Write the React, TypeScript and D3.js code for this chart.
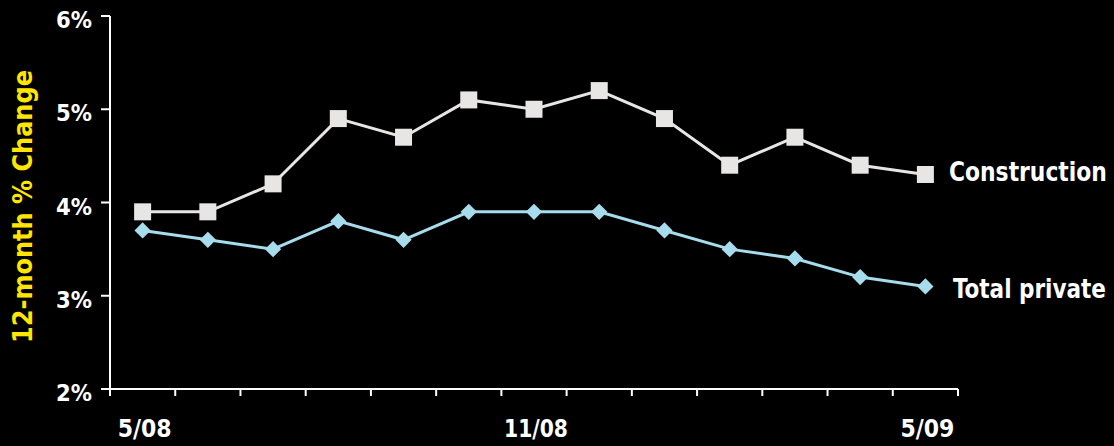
import * as d3 from "d3";
import { useLayoutEffect, useRef, useState } from "react";

const months = ["5/08", "6/08", "7/08", "8/08", "9/08", "10/08", "11/08", "12/08", "1/09", "2/09", "3/09", "4/09", "5/09"];
const construction = [3.9, 3.9, 4.2, 4.9, 4.7, 5.1, 5.0, 5.2, 4.9, 4.4, 4.7, 4.4, 4.3];
const totalPrivate = [3.7, 3.6, 3.5, 3.8, 3.6, 3.9, 3.9, 3.9, 3.7, 3.5, 3.4, 3.2, 3.1];
const yTicks = [2, 3, 4, 5, 6];
const xLabels = ["5/08", "11/08", "5/09"];

const WIDTH = 1114;
const HEIGHT = 446;
const LEFT = 110;
const RIGHT = 958;
const TOP = 16;
const BOTTOM = 389;
const FONT = "'DejaVu Sans Condensed', 'DejaVu Sans', sans-serif";

const CONSTRUCTION_COLOR = "#e8e5e5";
const PRIVATE_COLOR = "#a6dcec";

// the original face is narrower than anything installed, so squeeze each label horizontally to its width
function Label(props: {
  x: number;
  y: number;
  size: number;
  width: number;
  rotate?: number;
  anchor?: "start" | "middle" | "end";
  fill?: string;
  children: string;
}) {
  const ref = useRef<SVGTextElement>(null);
  const [k, setK] = useState(1);

  useLayoutEffect(() => {
    const natural = ref.current?.getComputedTextLength() ?? 0;
    if (natural > 0) setK(props.width / natural);
  }, [props.width, props.children, props.size]);

  return (
    <g transform={`translate(${props.x} ${props.y}) rotate(${props.rotate ?? 0}) scale(${k} 1)`}>
      <text
        ref={ref}
        textAnchor={props.anchor ?? "start"}
        fill={props.fill ?? "#fff"}
        fontFamily={FONT}
        fontWeight="bold"
        fontSize={props.size}
      >
        {props.children}
      </text>
    </g>
  );
}

export default function App() {
  const x = d3.scaleBand<string>().domain(months).range([LEFT, RIGHT]).padding(0);
  const y = d3.scaleLinear().domain([2, 6]).range([BOTTOM, TOP]);
  const cx = (m: string) => (x(m) ?? 0) + x.bandwidth() / 2;

  const line = d3
    .line<number>()
    .x((_, i) => cx(months[i]))
    .y((v) => y(v));

  const square = d3.symbol(d3.symbolSquare, 17 * 17)() ?? "";
  const diamond = d3.symbol(d3.symbolSquare, 11.5 * 11.5)() ?? "";

  const boundaries = d3.range(months.length + 1).map((i) => LEFT + i * x.step());

  return (
    <div style={{ position: "absolute", left: 0, top: 0 }}>
      <svg width={WIDTH} height={HEIGHT} viewBox={`0 0 ${WIDTH} ${HEIGHT}`} style={{ display: "block" }}>
        <rect width={WIDTH} height={HEIGHT} fill="#000" />

        {/* y axis */}
        <line x1={LEFT} x2={LEFT} y1={TOP} y2={BOTTOM} stroke="#fff" strokeWidth="2" />
        {yTicks.map((t) => (
          <g key={t}>
            <line x1={LEFT - 9} x2={LEFT} y1={y(t)} y2={y(t)} stroke="#fff" strokeWidth="2" />
            <Label x={92} y={y(t) + 12} size={23} width={36} anchor="end">
              {`${t}%`}
            </Label>
          </g>
        ))}

        {/* x axis */}
        <line x1={LEFT} x2={boundaries[boundaries.length - 1]} y1={BOTTOM} y2={BOTTOM} stroke="#fff" strokeWidth="2" />
        {boundaries.map((bx, i) => (
          <line key={i} x1={bx} x2={bx} y1={BOTTOM} y2={BOTTOM + 7} stroke="#fff" strokeWidth="2" />
        ))}
        {xLabels.map((m) => (
          <Label key={m} x={cx(m) + 2} y={437} size={25} width={m.length > 4 ? 64 : 54} anchor="middle">
            {m}
          </Label>
        ))}

        <Label x={32} y={206.5} rotate={-90} size={26} width={273} anchor="middle" fill="#ffe600">
          12-month % Change
        </Label>

        {/* series */}
        <path d={line(construction) ?? undefined} fill="none" stroke={CONSTRUCTION_COLOR} strokeWidth="3" />
        <path d={line(totalPrivate) ?? undefined} fill="none" stroke={PRIVATE_COLOR} strokeWidth="3" />
        {construction.map((v, i) => (
          <path key={`c${i}`} d={square} transform={`translate(${cx(months[i])} ${y(v)})`} fill={CONSTRUCTION_COLOR} />
        ))}
        {totalPrivate.map((v, i) => (
          <path
            key={`p${i}`}
            d={diamond}
            transform={`translate(${cx(months[i])} ${y(v)}) rotate(45)`}
            fill={PRIVATE_COLOR}
          />
        ))}

        <Label x={949} y={181} size={27} width={158}>
          Construction
        </Label>
        <Label x={953} y={298} size={27} width={153}>
          Total private
        </Label>
      </svg>
    </div>
  );
}
